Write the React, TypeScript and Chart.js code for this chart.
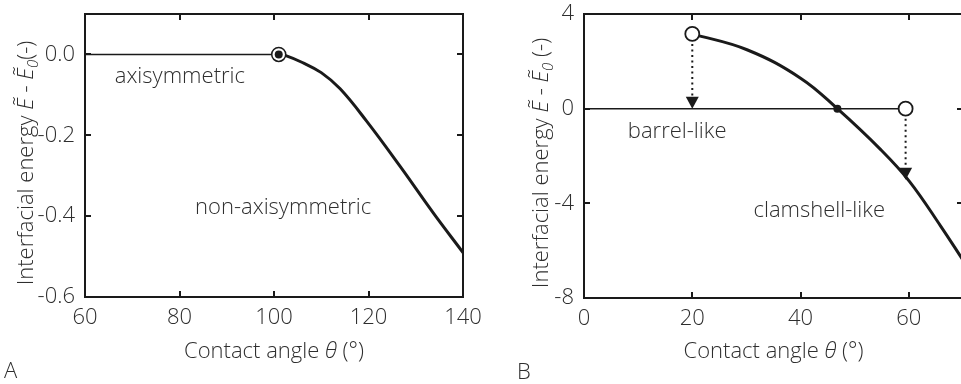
import React, { useEffect, useRef } from "react";
import { Chart, registerables } from "chart.js";

Chart.register(...registerables);

const FONT = '"Open Sans", "Segoe UI", sans-serif';
const TEXT = "#2e2e2e";
const INK = "#1a1a1a";

// ---------- Panel A ----------
const aXTicks = [60, 80, 100, 120, 140];
const aYTicks = [-0.6, -0.4, -0.2, 0.0];
const aXRange = [60, 140];
const aYRange = [-0.6, 0.1];
const aFlatX = [60, 101];
const aFlatY = [0, 0];
const aCurveX = [101, 102.5, 106, 110, 114, 119.6, 126.7, 133.7, 140];
const aCurveY = [0, -0.003, -0.02, -0.045, -0.085, -0.165, -0.277, -0.392, -0.49];
const aBifX = [101];
const aBifY = [0];
const aLabels = ["axisymmetric", "non-axisymmetric"];
const aLabelX = [66.3, 83.3];
const aLabelY = [-0.054, -0.379];

// ---------- Panel B ----------
const bXTicks = [0, 20, 40, 60];
const bYTicks = [-8, -4, 0, 4];
const bXRange = [0, 70];
const bYRange = [-8, 4];
const bFlatX = [0, 59.4];
const bFlatY = [0, 0];
const bCurveX = [20, 30.1, 40, 46.8, 54.8, 60.1, 65.9, 70];
const bCurveY = [3.16, 2.49, 1.29, 0, -1.73, -3.07, -4.97, -6.4];
const bOpenX = [20, 59.4];
const bOpenY = [3.16, 0];
const bCrossX = [46.8];
const bCrossY = [0];
const bArrowX = [20, 59.4];
const bArrowFrom = [3.16, 0];
const bArrowTo = [0, -3.0];
const bLabels = ["barrel-like", "clamshell-like"];
const bLabelX = [8.1, 31.3];
const bLabelY = [-0.97, -4.3];

const pts = (xs: number[], ys: number[]) => xs.map((x, i) => ({ x, y: ys[i] }));

const FS = 22;
function font(size: number, italic = false) {
  return `${italic ? "italic " : ""}300 ${size}px ${FONT}`;
}

type PanelCfg = {
  width: number;
  height: number;
  areaLeft: number;
  areaRight: number;
  areaTop: number;
  areaBottom: number;
  xTicks: number[];
  yTicks: number[];
  xRange: number[];
  yRange: number[];
  yFmt: (v: number) => string;
  datasets: any[];
  labels: string[];
  labelX: number[];
  labelY: number[];
  arrows?: { x: number[]; from: number[]; to: number[] };
  yTitleX: number;
  spaceBeforeUnit: boolean;
  letter: string;
  letterX: number;
  letterY: number;
};

function zeroPad(s: any) {
  s.paddingLeft = 0;
  s.paddingRight = 0;
  s.paddingTop = 0;
  s.paddingBottom = 0;
}

function makeChart(canvas: HTMLCanvasElement, cfg: PanelCfg) {
  const decor = {
    id: "decor",
    afterDatasetsDraw(chart: any) {
      const { ctx, chartArea: ca, scales } = chart;
      const xs = scales.x;
      const ys = scales.y;
      ctx.save();
      if (cfg.arrows) {
        const a = cfg.arrows;
        for (let i = 0; i < a.x.length; i++) {
          const px = xs.getPixelForValue(a.x[i]);
          const p0 = ys.getPixelForValue(a.from[i]);
          const p1 = ys.getPixelForValue(a.to[i]);
          const headH = 12;
          const headW = 6.5;
          ctx.strokeStyle = INK;
          ctx.lineWidth = 2;
          ctx.setLineDash([2, 3.5]);
          ctx.beginPath();
          ctx.moveTo(px, p0 + 10);
          ctx.lineTo(px, p1 - headH);
          ctx.stroke();
          ctx.setLineDash([]);
          ctx.fillStyle = INK;
          ctx.beginPath();
          ctx.moveTo(px - headW, p1 - headH);
          ctx.lineTo(px + headW, p1 - headH);
          ctx.lineTo(px, p1);
          ctx.closePath();
          ctx.fill();
        }
      }
      ctx.strokeStyle = INK;
      ctx.lineWidth = 2;
      ctx.strokeRect(ca.left, ca.top, ca.right - ca.left, ca.bottom - ca.top);
      const tl = 6;
      ctx.beginPath();
      for (const v of cfg.xTicks) {
        const px = Math.round(xs.getPixelForValue(v));
        ctx.moveTo(px, ca.bottom);
        ctx.lineTo(px, ca.bottom - tl);
        ctx.moveTo(px, ca.top);
        ctx.lineTo(px, ca.top + tl);
      }
      for (const v of cfg.yTicks) {
        const py = Math.round(ys.getPixelForValue(v));
        ctx.moveTo(ca.left, py);
        ctx.lineTo(ca.left + tl, py);
        ctx.moveTo(ca.right, py);
        ctx.lineTo(ca.right - tl, py);
      }
      ctx.stroke();
      ctx.fillStyle = TEXT;
      ctx.font = font(FS);
      ctx.textAlign = "left";
      ctx.textBaseline = "middle";
      cfg.labels.forEach((t, i) => {
        ctx.fillText(t, xs.getPixelForValue(cfg.labelX[i]), ys.getPixelForValue(cfg.labelY[i]));
      });
      ctx.restore();
    },
    afterDraw(chart: any) {
      const { ctx, chartArea: ca } = chart;
      ctx.save();
      ctx.fillStyle = TEXT;
      ctx.textBaseline = "alphabetic";
      const segX: [string, string, number][] = [
        ["Contact angle ", font(FS), 0],
        ["\u03B8", font(FS, true), 0],
        [" (\u00B0)", font(FS), 0],
      ];
      let tot = 0;
      for (const [t, f] of segX) {
        ctx.font = f;
        tot += ctx.measureText(t).width;
      }
      let cx = (ca.left + ca.right) / 2 - tot / 2;
      for (const [t, f] of segX) {
        ctx.font = f;
        ctx.fillText(t, cx, 358);
        cx += ctx.measureText(t).width;
      }
      const segY: [string, string, number][] = [
        ["Interfacial energy ", font(FS), 0],
        ["\u1EBC", font(FS, true), 0],
        [" - ", font(FS), 0],
        ["\u1EBC", font(FS, true), 0],
        ["0", font(15, true), 5],
        [cfg.spaceBeforeUnit ? " (-)" : "(-)", font(FS), 0],
      ];
      tot = 0;
      for (const [t, f] of segY) {
        ctx.font = f;
        tot += ctx.measureText(t).width;
      }
      ctx.translate(cfg.yTitleX, 163);
      ctx.rotate(-Math.PI / 2);
      let yx = -tot / 2;
      for (const [t, f, dy] of segY) {
        ctx.font = f;
        ctx.fillText(t, yx, dy);
        yx += ctx.measureText(t).width;
      }
      ctx.restore();
      ctx.save();
      ctx.fillStyle = TEXT;
      ctx.font = font(FS);
      ctx.textBaseline = "alphabetic";
      ctx.fillText(cfg.letter, cfg.letterX, cfg.letterY);
      ctx.restore();
    },
  };

  const tickFont = { family: FONT, size: FS, weight: 300 as any };

  return new Chart(canvas, {
    type: "line",
    data: { datasets: cfg.datasets },
    options: {
      animation: false,
      responsive: false,
      maintainAspectRatio: false,
      events: [],
      layout: {
        padding: { left: 0, top: cfg.areaTop, right: cfg.width - cfg.areaRight, bottom: 0 },
      },
      plugins: { legend: { display: false }, tooltip: { enabled: false }, title: { display: false } },
      scales: {
        x: {
          type: "linear",
          min: cfg.xRange[0],
          max: cfg.xRange[1],
          afterBuildTicks: (s: any) => {
            s.ticks = cfg.xTicks.map((v) => ({ value: v }));
          },
          afterFit: (s: any) => {
            s.height = cfg.height - cfg.areaBottom;
            zeroPad(s);
          },
          ticks: {
            font: tickFont,
            color: TEXT,
            padding: 8,
            maxRotation: 0,
            autoSkip: false,
            callback: (v: any) => String(v),
          },
          grid: { display: false, drawTicks: false },
          border: { display: false },
        },
        y: {
          type: "linear",
          min: cfg.yRange[0],
          max: cfg.yRange[1],
          afterBuildTicks: (s: any) => {
            s.ticks = cfg.yTicks.map((v) => ({ value: v }));
          },
          afterFit: (s: any) => {
            s.width = cfg.areaLeft;
            zeroPad(s);
          },
          ticks: {
            font: tickFont,
            color: TEXT,
            padding: 10,
            autoSkip: false,
            callback: (v: any) => cfg.yFmt(Number(v)),
          },
          grid: { display: false, drawTicks: false },
          border: { display: false },
        },
      },
    } as any,
    plugins: [decor],
  });
}

function Panel({ cfg, left }: { cfg: PanelCfg; left: number }) {
  const ref = useRef<HTMLCanvasElement>(null);
  useEffect(() => {
    if (!ref.current) return;
    const ch = makeChart(ref.current, cfg);
    return () => ch.destroy();
  }, []);
  return (
    <canvas
      ref={ref}
      width={cfg.width}
      height={cfg.height}
      style={{ position: "absolute", left, top: 0, width: cfg.width, height: cfg.height }}
    />
  );
}

const lineDs = (xs: number[], ys: number[], w: number) => ({
  data: pts(xs, ys),
  borderColor: INK,
  borderWidth: w,
  pointRadius: 0,
  fill: false,
  tension: 0.4,
  borderCapStyle: "round",
});

const pointDs = (xs: number[], ys: number[], r: number, fillColor: string, bw: number) => ({
  data: pts(xs, ys),
  showLine: false,
  pointRadius: r,
  pointBackgroundColor: fillColor,
  pointBorderColor: INK,
  pointBorderWidth: bw,
  clip: false,
});

const panelA: PanelCfg = {
  width: 496,
  height: 384,
  areaLeft: 85,
  areaRight: 463,
  areaTop: 14,
  areaBottom: 297,
  xTicks: aXTicks,
  yTicks: aYTicks,
  xRange: aXRange,
  yRange: aYRange,
  yFmt: (v) => v.toFixed(1),
  datasets: [
    pointDs(aBifX, aBifY, 4, INK, 0),
    pointDs(aBifX, aBifY, 7, "#ffffff", 1.5),
    lineDs(aCurveX, aCurveY, 3),
    lineDs(aFlatX, aFlatY, 1.5),
  ],
  labels: aLabels,
  labelX: aLabelX,
  labelY: aLabelY,
  yTitleX: 33,
  spaceBeforeUnit: false,
  letter: "A",
  letterX: 4,
  letterY: 378,
};

const panelB: PanelCfg = {
  width: 520,
  height: 384,
  areaLeft: 104,
  areaRight: 483,
  areaTop: 14,
  areaBottom: 298,
  xTicks: bXTicks,
  yTicks: bYTicks,
  xRange: bXRange,
  yRange: bYRange,
  yFmt: (v) => String(v),
  datasets: [
    pointDs(bOpenX, bOpenY, 7, "#ffffff", 1.8),
    pointDs(bCrossX, bCrossY, 4, INK, 0),
    lineDs(bCurveX, bCurveY, 3),
    lineDs(bFlatX, bFlatY, 1.5),
  ],
  labels: bLabels,
  labelX: bLabelX,
  labelY: bLabelY,
  arrows: { x: bArrowX, from: bArrowFrom, to: bArrowTo },
  yTitleX: 68,
  spaceBeforeUnit: true,
  letter: "B",
  letterX: 37,
  letterY: 379,
};

export default function App() {
  return (
    <div
      style={{
        position: "absolute",
        left: 0,
        top: 0,
        width: 961,
        height: 384,
        overflow: "hidden",
        background: "#ffffff",
      }}
    >
      <Panel cfg={panelA} left={0} />
      <Panel cfg={panelB} left={480} />
    </div>
  );
}
